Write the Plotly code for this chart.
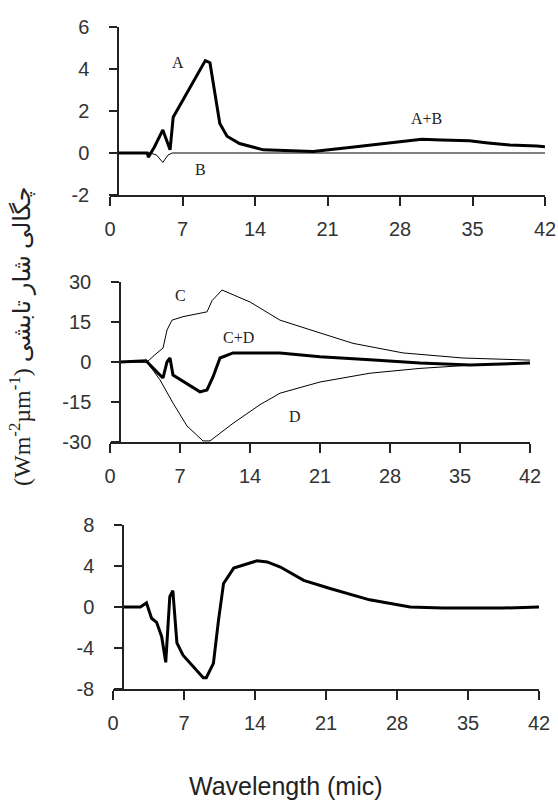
import plotly.graph_objects as go

# ---------------- data ----------------
# Panel 1: A (thick, also labelled A+B) and B (thin)
wl_a = [0.8, 3.6, 3.7, 4.3, 5.1, 5.8, 6.1, 7.0, 8.0, 9.2, 9.65, 10.1, 10.6, 11.3, 12.5, 14.8, 17.0, 19.6,
        22.9, 24.8, 27.3, 30.1, 32.0, 34.7, 36.5, 38.6, 41.2, 42.0]
val_ab = [0.0, 0.0, -0.2, 0.3, 1.1, 0.15, 1.7, 2.5, 3.4, 4.4, 4.3, 3.0, 1.4, 0.8, 0.45, 0.15, 0.1, 0.07,
          0.25, 0.35, 0.48, 0.65, 0.62, 0.58, 0.48, 0.38, 0.33, 0.3]
wl_b = [0.8, 3.9, 4.5, 5.1, 5.6, 6.0, 14.0, 28.0, 42.0]
val_b = [0.0, 0.0, -0.1, -0.45, -0.1, 0.0, 0.0, 0.0, 0.0]

# Panel 2: C, D (thin) and C+D (thick)
wl_c = [1.0, 3.7, 4.7, 5.3, 5.7, 6.2, 7.3, 9.7, 10.2, 11.2, 14.0, 17.0, 21.0, 24.3, 29.3, 35.3, 42.0]
val_c = [0.0, 0.0, 3.4, 5.2, 12.0, 15.7, 17.0, 18.8, 23.0, 27.0, 22.5, 15.7, 10.9, 7.0, 3.4, 1.5, 0.7]
wl_d = [1.0, 3.7, 5.0, 6.3, 7.7, 9.3, 10.0, 12.3, 15.0, 17.0, 21.0, 26.0, 31.0, 36.0, 42.0]
val_d = [0.0, 0.0, -6.7, -15.4, -24.0, -29.6, -29.6, -23.0, -16.0, -11.7, -7.5, -4.2, -2.4, -1.2, -0.4]
wl_cd = [1.0, 3.6, 4.7, 5.3, 5.7, 6.0, 6.3, 7.7, 9.0, 9.7, 10.3, 11.0, 12.3, 17.0, 21.0, 26.0, 31.0, 36.0, 42.0]
val_cd = [0.0, 0.5, -3.8, -6.0, 0.0, 1.5, -4.9, -8.0, -11.2, -10.5, -5.6, 1.5, 3.4, 3.4, 2.0, 0.8, -0.4, -1.1, -0.4]

# Panel 3: net
wl_n = [1.0, 2.7, 3.3, 3.8, 4.3, 4.8, 5.2, 5.6, 5.9, 6.3, 6.9, 8.9, 9.2, 9.9, 10.4, 10.9, 11.9, 14.2, 15.2,
        16.5, 18.8, 21.4, 25.3, 29.3, 32.5, 38.5, 42.0]
val_n = [0.0, 0.0, 0.4, -1.1, -1.5, -2.9, -5.4, 1.0, 1.6, -3.5, -4.7, -6.9, -6.9, -5.5, -1.3, 2.3, 3.8, 4.5, 4.4,
         3.9, 2.6, 1.8, 0.7, 0.0, -0.1, -0.1, 0.0]

x_ticks = [0, 7, 14, 21, 28, 35, 42]
y1_ticks = [-2, 0, 2, 4, 6]
y2_ticks = [-30, -15, 0, 15, 30]
y3_ticks = [-8, -4, 0, 4, 8]

labels1 = [("A", 6.6, 4.33), ("B", 8.7, -0.8), ("A+B", 30.6, 1.65)]
labels2 = [("C", 7.0, 25.0), ("C+D", 12.8, 9.3), ("D", 18.5, -20.6)]

# ---------------- figure ----------------
W, H = 558, 801
fig = go.Figure()

thick = dict(color="black", width=3)
thin = dict(color="black", width=1)

fig.add_trace(go.Scatter(x=wl_b, y=val_b, mode="lines", line=thin, xaxis="x", yaxis="y"))
fig.add_trace(go.Scatter(x=wl_a, y=val_ab, mode="lines", line=thick, xaxis="x", yaxis="y"))
fig.add_trace(go.Scatter(x=wl_c, y=val_c, mode="lines", line=thin, xaxis="x2", yaxis="y2"))
fig.add_trace(go.Scatter(x=wl_d, y=val_d, mode="lines", line=thin, xaxis="x2", yaxis="y2"))
fig.add_trace(go.Scatter(x=wl_cd, y=val_cd, mode="lines", line=thick, xaxis="x2", yaxis="y2"))
fig.add_trace(go.Scatter(x=wl_n, y=val_n, mode="lines", line=thick, xaxis="x3", yaxis="y3"))

tickfont = dict(family="Liberation Sans Narrow, Liberation Sans, Arial", size=20, color="#333")

def txt(vals):
    return [str(v) for v in vals]

def xax(dom, anchor):
    return dict(domain=dom, anchor=anchor, range=[0, 42], tickvals=x_ticks, ticktext=txt(x_ticks),
                showgrid=False, zeroline=False,
                showline=True, linecolor="#222", linewidth=1.5, ticks="outside", ticklen=9, tickwidth=1.5,
                tickcolor="#222", tickfont=tickfont, ticklabelstandoff=6)

def yax(dom, rng, tv, pos):
    return dict(domain=dom, anchor="free", position=pos, range=rng, tickvals=tv, ticktext=txt(tv),
                showgrid=False,
                zeroline=False, showline=True, linecolor="#222", linewidth=1.5, ticks="outside",
                ticklen=8, tickwidth=1.5, tickcolor="#222", tickfont=tickfont, ticklabelstandoff=16)

def fx(px):
    return px / W

def fy(py):
    return 1 - py / H

fig.update_layout(
    width=W, height=H, margin=dict(l=0, r=0, t=0, b=0, autoexpand=False),
    paper_bgcolor="white", plot_bgcolor="white", showlegend=False,
    xaxis=xax([fx(110), fx(545)], "y"),
    yaxis=yax([fy(195), fy(27)], [-2, 6], y1_ticks, fx(118)),
    xaxis2=xax([fx(110), fx(530)], "y2"),
    yaxis2=yax([fy(442), fy(282)], [-30, 30], y2_ticks, fx(120)),
    xaxis3=xax([fx(113), fx(539)], "y3"),
    yaxis3=yax([fy(689), fy(525)], [-8, 8], y3_ticks, fx(123)),
)

lab_font = dict(family="Liberation Serif, Times New Roman, serif", size=16, color="#222")
for t, x, y in labels1:
    fig.add_annotation(x=x, y=y, xref="x", yref="y", text=t, showarrow=False, font=lab_font)
for t, x, y in labels2:
    fig.add_annotation(x=x, y=y, xref="x2", yref="y2", text=t, showarrow=False, font=lab_font)

fig.add_annotation(x=fx(286), y=fy(786), xref="paper", yref="paper", text="Wavelength (mic)",
                   xanchor="center", yanchor="middle",
                   showarrow=False, font=dict(family="Liberation Sans, Arial", size=25, color="#222"))
fig.add_annotation(x=fx(20), y=fy(336), xref="paper", yref="paper", textangle=-90,
                   xanchor="center", yanchor="middle",
                   text="(Wm<sup>-2</sup>µm<sup>-1</sup>) چگالی شار تابشی",
                   showarrow=False, font=dict(family="Liberation Serif, DejaVu Sans, serif", size=24, color="#222"))

fig.write_html("out.html", config={"displayModeBar": False},
               post_script="document.body.style.margin='0';document.body.style.overflow='hidden';")
